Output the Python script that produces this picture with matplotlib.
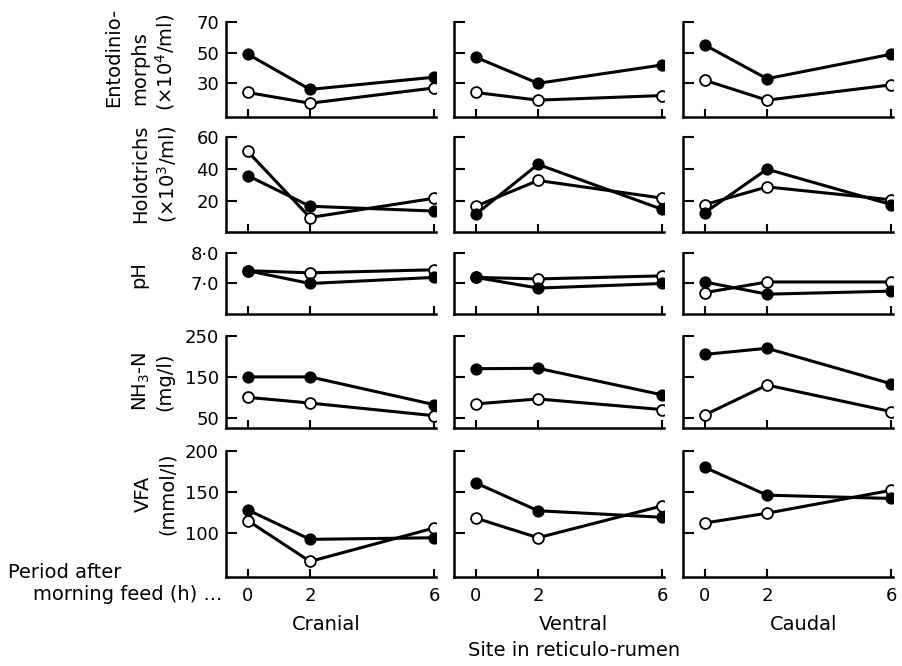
import numpy as np
import matplotlib.pyplot as plt

plt.rcParams['font.family'] = ['DejaVu Sans']

hours = [0, 2, 6]
sites = ["Cranial", "Ventral", "Caudal"]

# one list per site (cranial, ventral, caudal); filled = solid dots, open = open dots
ento_filled = [[49, 26, 34], [47, 30, 42], [55, 33, 49]]
ento_open = [[24, 17, 27], [24, 19, 22], [32, 19, 29]]
holo_filled = [[36, 17, 14], [12, 43, 15], [13, 40, 18]]
holo_open = [[51, 10, 22], [17, 33, 22], [18, 29, 21]]
ph_filled = [[7.42, 7.0, 7.2], [7.2, 6.85, 7.0], [7.05, 6.65, 6.75]]
ph_open = [[7.42, 7.35, 7.45], [7.2, 7.15, 7.25], [6.7, 7.05, 7.05]]
nh3_filled = [[150, 150, 82], [170, 171, 106], [205, 220, 133]]
nh3_open = [[100, 86, 55], [84, 96, 70], [57, 130, 65]]
vfa_filled = [[128, 92, 94], [161, 127, 119], [180, 146, 142]]
vfa_open = [[115, 65, 106], [118, 94, 133], [112, 124, 152]]

row_labels = [["Entodinio-", "morphs", "(×10$^4$/ml)"],
              ["Holotrichs", "(×10$^3$/ml)"],
              ["pH"],
              ["NH$_3$-N", "(mg/l)"],
              ["VFA", "(mmol/l)"]]
row_ticks = [[30, 50, 70], [20, 40, 60], [7.0, 8.0], [50, 150, 250], [100, 150, 200]]
row_ticklabels = [["30", "50", "70"], ["20", "40", "60"], ["7·0", "8·0"],
                  ["50", "150", "250"], ["100", "150", "200"]]
row_lims = [(8, 70), (1, 60), (6.0, 8.0), (25, 250), (46, 200)]
rows_filled = [ento_filled, holo_filled, ph_filled, nh3_filled, vfa_filled]
rows_open = [ento_open, holo_open, ph_open, nh3_open, vfa_open]

W, H = 902, 666
fig = plt.figure(figsize=(W / 100, H / 100), dpi=100)

col_left = [226, 454, 683]
col_w = 210
row_span = [(22, 117), (137, 232), (253, 314), (336, 428), (451, 577)]
# pixel centres of each line of the rotated row labels
label_pos = [[(114, 57), (140, 68), (165, 62)],
             [(141, 174), (167, 174)],
             [(139, 275)],
             [(141, 381), (165, 382)],
             [(143, 494), (167, 494)]]


def px_axes(left, top, width, bottom):
    return fig.add_axes([left / W, 1 - bottom / H, width / W, (bottom - top) / H])


for r in range(5):
    top, bot = row_span[r]
    for c in range(3):
        ax = px_axes(col_left[c], top, col_w, bot)
        ax.plot(hours, rows_filled[r][c], '-o', color='black', lw=2.2,
                ms=7.8, mfc='black', mec='black', zorder=3)
        ax.plot(hours, rows_open[r][c], '-o', color='black', lw=2.2,
                ms=7.8, mfc='white', mec='black', mew=1.3, zorder=2)
        ax.set_xlim(-0.7, 6.05)
        ax.set_ylim(*row_lims[r])
        ax.spines['top'].set_visible(False)
        ax.spines['right'].set_visible(False)
        for s in ('left', 'bottom'):
            ax.spines[s].set_linewidth(1.8)
        ax.set_xticks(hours)
        ax.set_yticks(row_ticks[r])
        ax.tick_params(direction='in', length=6, width=1.5, labelsize=13, pad=5)
        ax.tick_params(axis='y', length=8)
        if c == 0:
            ax.set_yticklabels(row_ticklabels[r])
        else:
            ax.set_yticklabels([])
        if r == 4:
            ax.set_xticklabels([str(h) for h in hours])
            ax.tick_params(axis='x', pad=7)
        else:
            ax.set_xticklabels([])
        ax.patch.set_alpha(0)

    for line, (x, y) in zip(row_labels[r], label_pos[r]):
        fig.text(x / W, 1 - y / H, line, rotation=90, ha='center', va='center', fontsize=14)

fig.text(8 / W, 1 - 573 / H, "Period after", fontsize=14, ha='left', va='center')
fig.text(33 / W, 1 - 595 / H, "morning feed (h) ...", fontsize=14, ha='left', va='center')

site_x = [326, 573, 804]
for name, x in zip(sites, site_x):
    fig.text(x / W, 1 - 624 / H, name, fontsize=14, ha='center', va='center')
fig.text(574 / W, 1 - 650 / H, "Site in reticulo-rumen", fontsize=14, ha='center', va='center')

fig.savefig("out.png", dpi=100)
